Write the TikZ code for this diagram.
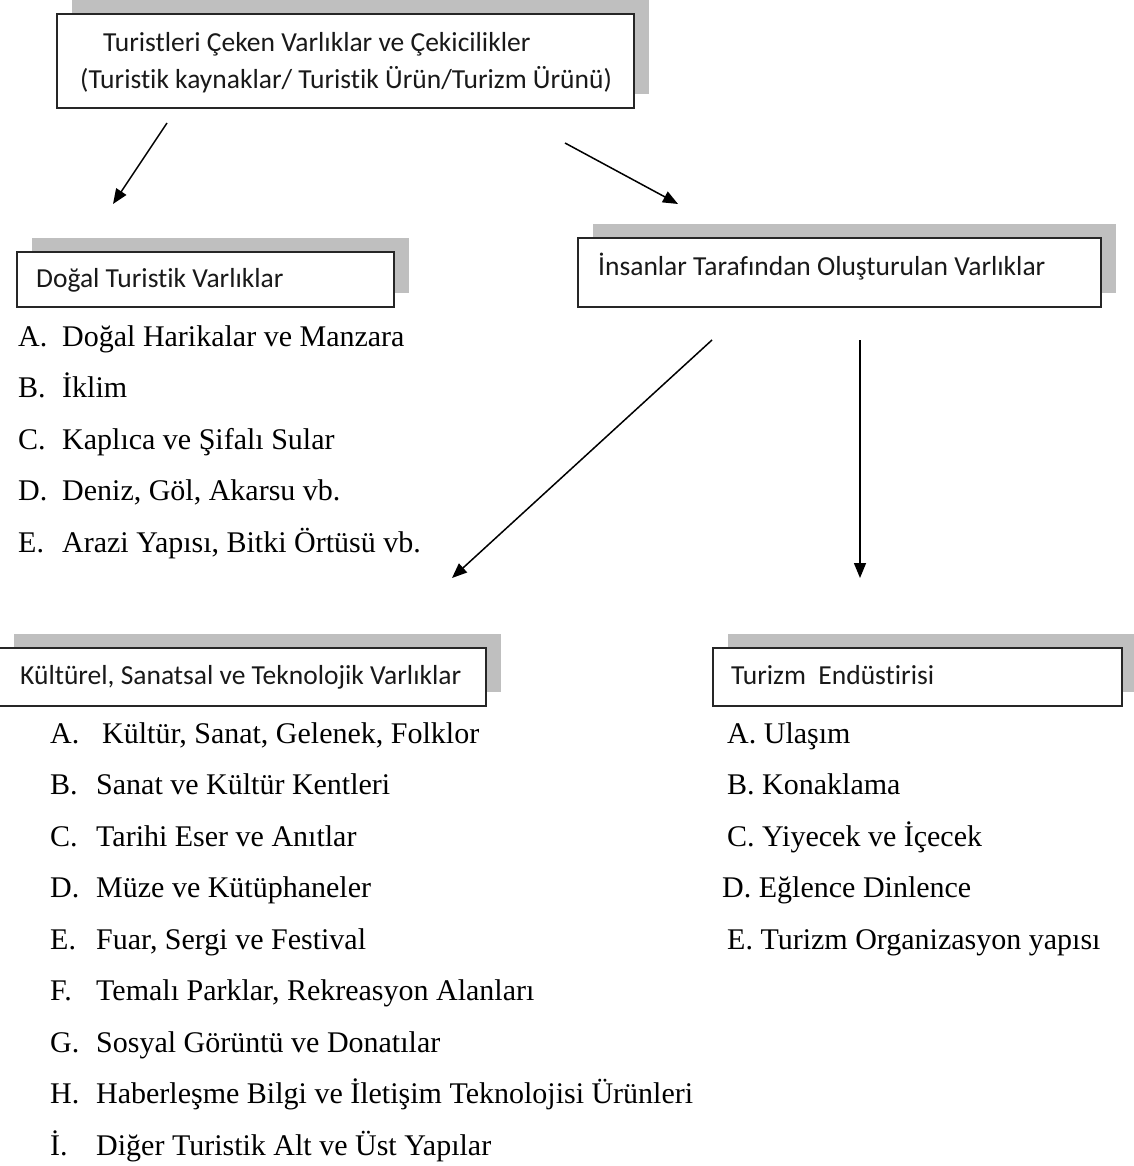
\documentclass[tikz,border=0pt]{standalone}
\usepackage{fontspec}
\setmainfont{Liberation Serif}
\newfontfamily\boxfont[Ligatures=NoCommon,RawFeature={-calt}]{Carlito}
\usetikzlibrary{arrows.meta,shadows}
\tikzset{
  box/.style={draw=black!85, line width=1.4pt, fill=white, inner sep=0pt, outer sep=0pt,
    anchor=north west,
    drop shadow={shadow xshift=15pt, shadow yshift=14pt, fill=black!25, opacity=1}},
  boxtext/.style={inner sep=0pt, anchor=base west, font=\boxfont\fontsize{27.5}{30}\selectfont, text=black!90},
  item/.style={inner sep=0pt, anchor=base west, font=\fontsize{30}{32}\selectfont},
  link/.style={line width=1.5pt, -{Triangle[length=15pt,width=12pt]}}
}
\begin{document}
\begin{tikzpicture}[x=1pt,y=-1pt]
\useasboundingbox (0,0) rectangle (1133,1166);

% header boxes with their drop shadows
\node[box, minimum width=577pt, minimum height=94pt] (top) at (57,14) {};
\node[box, minimum width=377pt, minimum height=55pt] (dogal) at (17,252) {};
\node[box, minimum width=523pt, minimum height=69pt] (insan) at (578,238) {};
\node[box, minimum width=487pt, minimum height=58pt] (kultur) at (-1,648) {};
\node[box, minimum width=409pt, minimum height=58pt] (endustri) at (713,648) {};

% box titles
\node[boxtext] (topA) at (103,52) {Turistleri Çeken Varlıklar ve Çekicilikler};
\node[boxtext] (topB) at (80,89) {(Turistik kaynaklar/ Turistik Ürün/Turizm Ürünü)};
\node[boxtext] (dogalT) at (36,287) {Doğal Turistik Varlıklar};
\node[boxtext] (insanT) at (598,275) {İnsanlar Tarafından Oluşturulan Varlıklar};
\node[boxtext] (kulturT) at (20,684) {Kültürel, Sanatsal ve Teknolojik Varlıklar};
\node[boxtext] (endustriT) at (731,684) {Turizm\ \ Endüstirisi};

% natural assets
\node[item] (d1) at (18,346) {\makebox[44pt][l]{A.}Doğal Harikalar ve Manzara};
\node[item] (d2) at (18,397) {\makebox[44pt][l]{B.}İklim};
\node[item] (d3) at (18,449) {\makebox[44pt][l]{C.}Kaplıca ve Şifalı Sular};
\node[item] (d4) at (18,500) {\makebox[44pt][l]{D.}Deniz, Göl, Akarsu vb.};
\node[item] (d5) at (18,552) {\makebox[44pt][l]{E.}Arazi Yapısı, Bitki Örtüsü vb.};

% cultural, artistic and technological assets
\node[item] (k1) at (50,743) {\makebox[52pt][l]{A.}Kültür, Sanat, Gelenek, Folklor};
\node[item] (k2) at (50,794) {\makebox[46pt][l]{B.}Sanat ve Kültür Kentleri};
\node[item] (k3) at (50,846) {\makebox[46pt][l]{C.}Tarihi Eser ve Anıtlar};
\node[item] (k4) at (50,897) {\makebox[46pt][l]{D.}Müze ve Kütüphaneler};
\node[item] (k5) at (50,949) {\makebox[46pt][l]{E.}Fuar, Sergi ve Festival};
\node[item] (k6) at (50,1000) {\makebox[46pt][l]{F.}Temalı Parklar, Rekreasyon Alanları};
\node[item] (k7) at (50,1052) {\makebox[46pt][l]{G.}Sosyal Görüntü ve Donatılar};
\node[item] (k8) at (50,1103) {\makebox[46pt][l]{H.}Haberleşme Bilgi ve İletişim Teknolojisi Ürünleri};
\node[item] (k9) at (50,1155) {\makebox[46pt][l]{İ.}Diğer Turistik Alt ve Üst Yapılar};

% tourism industry
\node[item] (e1) at (727,743) {A. Ulaşım};
\node[item] (e2) at (727,794) {B. Konaklama};
\node[item] (e3) at (727,846) {C. Yiyecek ve İçecek};
\node[item] (e4) at (722,897) {D. Eğlence Dinlence};
\node[item] (e5) at (727,949) {E. Turizm Organizasyon yapısı};

% connectors
\coordinate (a1s) at (167,123);
\coordinate (a1e) at (113,204);
\coordinate (a2s) at (565,143);
\coordinate (a2e) at (678,204);
\coordinate (a3s) at (712,340);
\coordinate (a3e) at (452,578);
\coordinate (a4s) at (860,340);
\coordinate (a4e) at (860,578);
\draw[link] (a1s) -- (a1e);
\draw[link] (a2s) -- (a2e);
\draw[link] (a3s) -- (a3e);
\draw[link] (a4s) -- (a4e);
\end{tikzpicture}
\end{document}
